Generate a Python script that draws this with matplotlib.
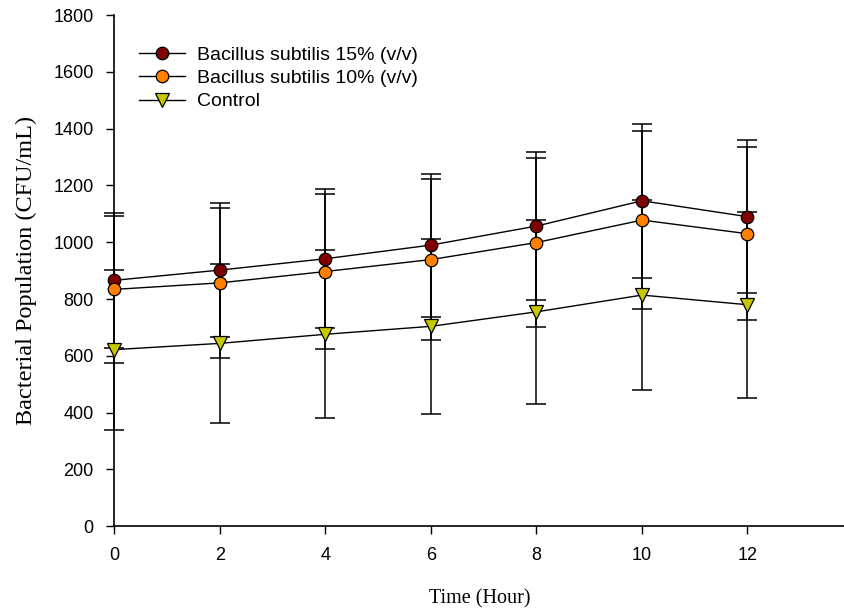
import matplotlib
matplotlib.use("Agg")
import matplotlib.pyplot as plt

time = [0, 2, 4, 6, 8, 10, 12]
b15 = [866, 902, 942, 990, 1057, 1146, 1090]
b15_err = [238, 237, 244, 252, 261, 272, 270]
b10 = [834, 857, 897, 939, 999, 1078, 1030]
b10_err = [260, 264, 272, 282, 296, 313, 304]
ctrl = [622, 644, 676, 704, 755, 814, 780]
ctrl_err = [282, 281, 296, 309, 323, 335, 327]

labels = ["Bacillus subtilis 15% (v/v)", "Bacillus subtilis 10% (v/v)", "Control"]
xticks = [0, 2, 4, 6, 8, 10, 12]
yticks = list(range(0, 1801, 200))

fig = plt.figure(figsize=(8.45, 6.14), dpi=100)
ax = fig.add_axes([114.5 / 845, 1 - 526.3 / 614, 1 - 114.5 / 845, (526.3 - 15) / 614])

sans = "Liberation Sans"
serif = "Liberation Serif"

series = [
    (b15, b15_err, "o", "#800000", labels[0]),
    (b10, b10_err, "o", "#FF8000", labels[1]),
    (ctrl, ctrl_err, "v", "#C8C800", labels[2]),
]
for vals, errs, mk, col, lab in series:
    _, caps, bars = ax.errorbar(time, vals, yerr=errs, fmt="none", ecolor="black",
                                elinewidth=1.1, capsize=7, capthick=1.1, zorder=2)
    for c in caps:
        c.set_clip_on(False)
    for b in bars:
        b.set_clip_on(False)
for vals, errs, mk, col, lab in series:
    ax.plot(time, vals, color="black", lw=1.0, marker=mk, markersize=9 if mk == "o" else 9.5,
            markerfacecolor=col, markeredgecolor="black", markeredgewidth=0.9,
            label=lab, zorder=3, clip_on=False)

ax.set_xlim(0, (845 - 114.5) / 52.75)
ax.set_ylim(0, 1800)
ax.set_xticks(xticks)
ax.set_yticks(yticks)
ax.spines["top"].set_visible(False)
ax.spines["right"].set_visible(False)
ax.spines["left"].set_linewidth(1.2)
ax.spines["bottom"].set_linewidth(1.2)
ax.tick_params(direction="out", length=6, width=1.0, labelsize=13, pad=9)
for t in ax.get_xticklabels() + ax.get_yticklabels():
    t.set_family(sans)

ax.set_xlabel("Time (Hour)", family=serif, fontsize=14.5, labelpad=18)
ax.set_ylabel("Bacterial Population (CFU/mL)", family=serif, fontsize=17.5, labelpad=12)

leg = ax.legend(loc="upper left", bbox_to_anchor=(0.0145, 0.966), frameon=False,
                prop={"family": sans, "size": 14}, handlelength=2.4, handletextpad=0.6,
                labelspacing=0.3, borderaxespad=0.3)

fig.savefig("out.png", dpi=100)
